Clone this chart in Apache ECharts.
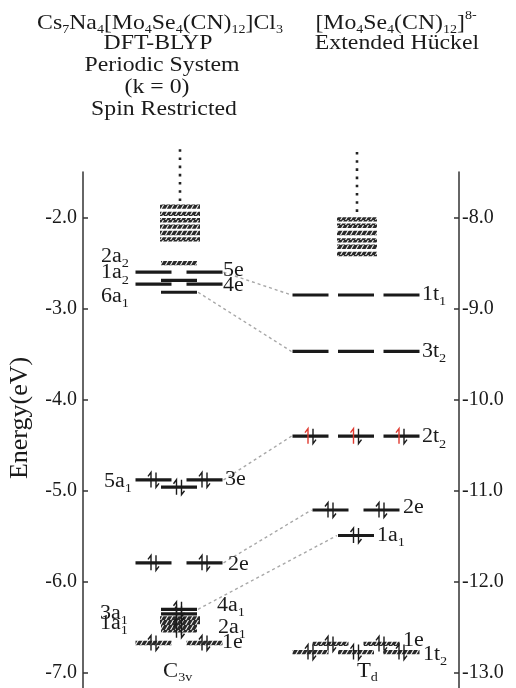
<!DOCTYPE html>
<html>
<head>
<meta charset="utf-8">
<script src="https://cdn.jsdelivr.net/npm/echarts@6/dist/echarts.min.js"></script>
<style>
    html, body { margin: 0; padding: 0; background: #fff; }
    #main { width: 516px; height: 688px; }
</style>
</head>
<body>
<div id="main"></div>
<script>
// ---- data ----
// DFT-BLYP levels (left scale, eV)
var dftNames = ['2a2', '5e', '1a2', '4e', '6a1', '3e', '5a1', '2e', '4a1', '3a1', '2a1', '1a1', '1e'];
var dftEnergy = [-2.50, -2.60, -2.69, -2.73, -2.82, -4.88, -4.96, -5.79, -6.30, -6.35, -6.48, -6.53, -6.67];
var dftElectrons = [0, 0, 0, 0, 0, 4, 2, 4, 2, 2, 2, 2, 4];
var dftBandRows = [-1.88, -1.96, -2.03, -2.10, -2.17, -2.24];   // empty band above
var dftLowBandRows = [-6.40, -6.44];
var dftDotsTop = -1.25;

// Extended Huckel levels (right scale, eV)
var ehtNames = ['1t1', '3t2', '2t2', '2e', '1a1', '1e', '1t2'];
var ehtEnergy = [-8.85, -9.47, -10.40, -11.21, -11.49, -12.68, -12.77];
var ehtElectrons = [0, 0, 6, 4, 2, 4, 6];
var ehtBandRows = [-8.02, -8.09, -8.17, -8.25, -8.32, -8.40];
var ehtDotsTop = -7.28;

// correlation lines  [DFT level, EHT level]
var correlations = [['5e', '1t1'], ['6a1', '3t2'], ['3e', '2t2'], ['2e', '2e'], ['4a1', '1a1']];

var leftTicks = [-7, -6, -5, -4, -3, -2];
var rightTicks = [-13, -12, -11, -10, -9, -8];

// ---- layout / style ----
var SERIF = 'Liberation Serif';
var INK = '#1a1a1a';
var AXIS_SHIFT = 6;               // right scale = left scale - 6 eV
var leftMin = -7.164, leftMax = -1.5;
var colX = {dft: 96, eht: 273};  // column centres, px from left axis
var slots = {1: [0], 2: [-25.5, 25.5], 3: [-45.5, 0, 45.5]};
var BAR_W = 36;
var hatchedDft = ['2a2', '2a1', '1a1', '1e'];
var hatchedEht = ['1e', '1t2'];

var dftLabelPos = { // align, x, energy nudge
    '2a2': ['right', 46, 0.07], '1a2': ['right', 46, 0.08], '6a1': ['right', 46, -0.05],
    '5e': ['left', 140, 0.02], '4e': ['left', 140, -0.02],
    '5a1': ['right', 49, 0.06], '3e': ['left', 142, 0],
    '2e': ['left', 145, -0.02],
    '4a1': ['left', 134, 0.04], '3a1': ['right', 45, 0.0],
    '2a1': ['left', 135, -0.02], '1a1': ['right', 45, 0.07], '1e': ['left', 139, 0.0]
};
var ehtLabelPos = {
    '1t1': ['left', 339, 0], '3t2': ['left', 339, 0], '2t2': ['left', 339, -0.01],
    '2e': ['left', 320, 0.02], '1a1': ['left', 294, 0], '1e': ['left', 320, 0.04], '1t2': ['left', 340, -0.03]
};

var richSub = {
    s: {fontSize: 13, fontFamily: SERIF, fill: INK, padding: [14, 0, 0, 0], verticalAlign: 'bottom'},
    p: {fontSize: 13, fontFamily: SERIF, fill: INK, padding: [0, 0, 12, 0], verticalAlign: 'top'}
};

// hatch pattern for band levels
var hatch = document.createElement('canvas');
hatch.width = 5; hatch.height = 5;
var hg = hatch.getContext('2d');
hg.fillStyle = '#2a2a2a';
hg.fillRect(0, 0, 5, 5);
hg.strokeStyle = '#f0f0f0';
hg.lineWidth = 1.1;
hg.beginPath(); hg.moveTo(0.5, 5); hg.lineTo(3.5, 0); hg.stroke();
var hatchFill = {image: hatch, repeat: 'repeat'};

function degeneracy(name) {
    var c = name.charAt(1);
    return c === 't' ? 3 : (c === 'e' ? 2 : 1);
}
function orbitalText(name) {
    return name.length > 2 ? name.slice(0, 2) + '{s|' + name.slice(2) + '}' : name;
}
function barEnds(name, col) {
    var s = slots[degeneracy(name)];
    return [colX[col] + s[0] - BAR_W / 2, colX[col] + s[s.length - 1] + BAR_W / 2];
}

function arrows(x, y, upColor) {
    return [{
        type: 'polyline',
        shape: {points: [[x - 2.5, y + 7.5], [x - 2.5, y - 7.5], [x - 5.5, y - 3.5]]},
        style: {stroke: upColor, lineWidth: 1.4, fill: null}
    }, {
        type: 'polyline',
        shape: {points: [[x + 2.5, y - 7.5], [x + 2.5, y + 7.5], [x + 5.5, y + 3.5]]},
        style: {stroke: INK, lineWidth: 1.4, fill: null}
    }];
}

function levelSeries(names, energies, electrons, hatched, col, yIdx) {
    return {
        type: 'custom', xAxisIndex: 0, yAxisIndex: yIdx, clip: false, silent: true, z: 5,
        data: energies.map(function (e, i) { return [colX[col], e, i]; }),
        renderItem: function (params, api) {
            var i = api.value(2);
            var name = names[i];
            var deg = degeneracy(name);
            var isHatch = hatched.indexOf(name) >= 0;
            var kids = [];
            slots[deg].forEach(function (dx) {
                var p = api.coord([api.value(0) + dx, api.value(1)]);
                kids.push({
                    type: 'rect',
                    shape: {x: p[0] - BAR_W / 2, y: p[1] - (isHatch ? 2.2 : 1.6), width: BAR_W, height: isHatch ? 4.4 : 3.2},
                    style: {fill: isHatch ? hatchFill : INK}
                });
                if (electrons[i] / deg >= 2) {
                    var upColor = (col === 'eht' && name === '2t2') ? '#e03a30' : INK;
                    kids = kids.concat(arrows(p[0], p[1], upColor));
                }
            });
            return {type: 'group', children: kids};
        }
    };
}

function bandSeries(rows, col, yIdx, dotsTop) {
    return {
        type: 'custom', xAxisIndex: 0, yAxisIndex: yIdx, clip: false, silent: true, z: 4,
        data: rows.map(function (e, i) { return [colX[col] + 1, e, i]; }),
        renderItem: function (params, api) {
            var p = api.coord([api.value(0), api.value(1)]);
            var kids = [{
                type: 'rect',
                shape: {x: p[0] - 20, y: p[1] - 2.2, width: 40, height: 4.4},
                style: {fill: hatchFill}
            }];
            if (dotsTop != null && api.value(2) === 0) {
                var top = api.coord([api.value(0), dotsTop]);
                kids.push({
                    type: 'line',
                    shape: {x1: top[0], y1: top[1], x2: p[0], y2: p[1] - 5},
                    style: {stroke: '#222', lineWidth: 2.6, lineDash: [2.6, 5.6]}
                });
            }
            return {type: 'group', children: kids};
        }
    };
}

function labelSeries(names, energies, pos, yIdx) {
    return {
        type: 'custom', xAxisIndex: 0, yAxisIndex: yIdx, clip: false, silent: true, z: 6,
        data: names.map(function (n, i) { return [pos[n][1], energies[i] + pos[n][2], i]; }),
        renderItem: function (params, api) {
            var n = names[api.value(2)];
            var p = api.coord([api.value(0), api.value(1)]);
            return {
                type: 'text', x: p[0], y: p[1], scaleX: 1.1,
                style: {
                    text: orbitalText(n), rich: richSub, fontSize: 20, fontFamily: SERIF,
                    fill: INK, align: pos[n][0], verticalAlign: 'middle'
                }
            };
        }
    };
}

var corrData = correlations.map(function (c, i) {
    var a = dftEnergy[dftNames.indexOf(c[0])];
    var b = ehtEnergy[ehtNames.indexOf(c[1])] + AXIS_SHIFT;
    return [a, b, i];
});
var corrSeries = {
    type: 'custom', xAxisIndex: 0, yAxisIndex: 0, clip: false, silent: true, z: 3,
    data: corrData,
    renderItem: function (params, api) {
        var c = correlations[api.value(2)];
        var p1 = api.coord([barEnds(c[0], 'dft')[1] + 1, api.value(0)]);
        var p2 = api.coord([barEnds(c[1], 'eht')[0] - 1, api.value(1)]);
        return {
            type: 'line',
            shape: {x1: p1[0], y1: p1[1], x2: p2[0], y2: p2[1]},
            style: {stroke: '#a8a8a8', lineWidth: 1.4, lineDash: [3, 3]}
        };
    }
};

function titleText(x, y, text) {
    return {
        type: 'text', x: x, y: y, scaleX: 1.08,
        style: {text: text, rich: richSub, fontSize: 22, fontFamily: SERIF, fill: INK, align: 'center', verticalAlign: 'middle'}
    };
}

var chart = echarts.init(document.getElementById('main'));
var option = {
    animation: false,
    grid: {left: 83, right: 57, top: 172, bottom: 0},
    xAxis: {type: 'value', min: 0, max: 376, show: false},
    yAxis: [{
        type: 'value', position: 'left', min: leftMin, max: leftMax,
        axisLine: {show: true, lineStyle: {color: '#333', width: 1.5}},
        axisTick: {show: true, inside: true, length: 5, customValues: leftTicks, lineStyle: {color: '#333', width: 1.5}},
        axisLabel: {
            customValues: leftTicks, margin: 6, fontSize: 20, fontFamily: SERIF, color: INK,
            formatter: function (v) { return v.toFixed(1); }
        },
        splitLine: {show: false}
    }, {
        type: 'value', position: 'right', min: leftMin - AXIS_SHIFT, max: leftMax - AXIS_SHIFT,
        axisLine: {show: true, lineStyle: {color: '#333', width: 1.5}},
        axisTick: {show: true, inside: true, length: 5, customValues: rightTicks, lineStyle: {color: '#333', width: 1.5}},
        axisLabel: {
            customValues: rightTicks, margin: 3, fontSize: 20, fontFamily: SERIF, color: INK,
            formatter: function (v) { return v.toFixed(1); }
        },
        splitLine: {show: false}
    }],
    graphic: [
        titleText(160, 23, 'Cs{s|7}Na{s|4}[Mo{s|4}Se{s|4}(CN){s|12}]Cl{s|3}'),
        titleText(158, 43, 'DFT-BLYP'),
        titleText(162, 65, 'Periodic System'),
        titleText(157, 87, '(k = 0)'),
        titleText(164, 109, 'Spin Restricted'),
        titleText(396, 23, '[Mo{s|4}Se{s|4}(CN){s|12}]{p|8-}'),
        titleText(397, 43, 'Extended Hückel'),
        {
            type: 'text', x: 20, y: 418, rotation: Math.PI / 2,
            style: {text: 'Energy(eV)', fontSize: 26, fontFamily: SERIF, fill: INK, align: 'center', verticalAlign: 'middle'}
        },
        {
            type: 'text', x: 163, y: 671, scaleX: 1.08,
            style: {text: 'C{s|3v}', rich: richSub, fontSize: 21, fontFamily: SERIF, fill: INK, align: 'left', verticalAlign: 'middle'}
        },
        {
            type: 'text', x: 357, y: 671, scaleX: 1.08,
            style: {text: 'T{s|d}', rich: richSub, fontSize: 21, fontFamily: SERIF, fill: INK, align: 'left', verticalAlign: 'middle'}
        }
    ],
    series: [
        corrSeries,
        bandSeries(dftBandRows, 'dft', 0, dftDotsTop),
        bandSeries(dftLowBandRows, 'dft', 0, null),
        bandSeries(ehtBandRows, 'eht', 1, ehtDotsTop),
        levelSeries(dftNames, dftEnergy, dftElectrons, hatchedDft, 'dft', 0),
        levelSeries(ehtNames, ehtEnergy, ehtElectrons, hatchedEht, 'eht', 1),
        labelSeries(dftNames, dftEnergy, dftLabelPos, 0),
        labelSeries(ehtNames, ehtEnergy, ehtLabelPos, 1)
    ]
};
chart.setOption(option);
</script>
</body>
</html>
